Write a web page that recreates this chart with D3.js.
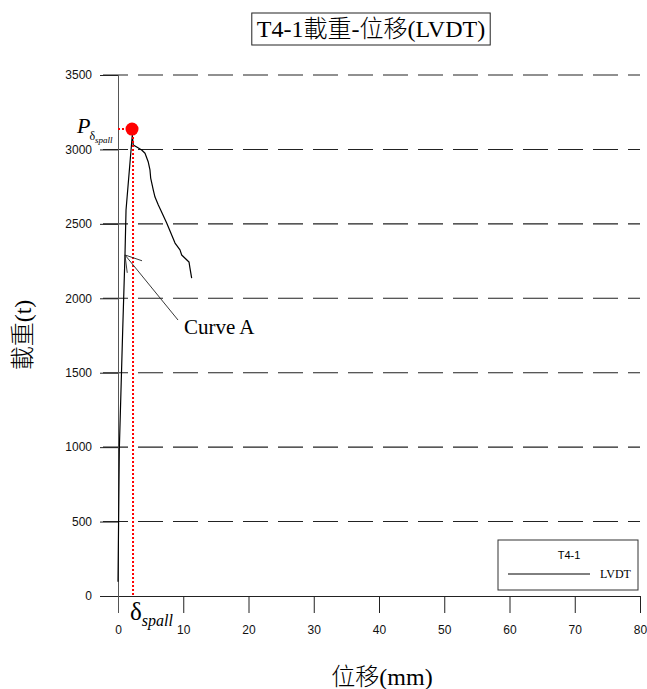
<!DOCTYPE html>
<html>
<head>
<meta charset="utf-8">
<script src="https://cdn.jsdelivr.net/npm/d3@7"></script>
<style>
  html, body { margin: 0; padding: 0; background: #fff; }
  svg { display: block; }
</style>
</head>
<body>
<svg id="chart" width="647" height="689"></svg>
<script>
// Load–displacement record of specimen T4-1 (LVDT)
const displacement = [0, 0.2, 0.72, 1.07, 1.23, 2.19, 2.34, 2.87, 3.63, 4.14, 4.64, 4.90, 5.01, 5.41, 5.67, 6.18, 6.54, 7.46, 8.74, 9.50, 9.76, 10.88, 11.03, 11.29];
const load         = [95, 981, 1787, 2291, 2593, 3097, 3030, 3016, 2996, 2974, 2915, 2862, 2808, 2727, 2680, 2626, 2593, 2506, 2371, 2325, 2291, 2244, 2203, 2136];

// Spalling point
const spallDisp = 2.15;
const spallLoad = 3137;

// Axis ticks
const xTicks = [0, 10, 20, 30, 40, 50, 60, 70, 80];
const yTicks = [0, 500, 1000, 1500, 2000, 2500, 3000, 3500];

// "Curve A" annotation: arrow tip on the curve, label below-right
const curveATip = [1.07, 2291];
const curveATail = [9.2, 1854];
const curveALabelAt = [10.1, 1760];

const title = "T4-1載重-位移(LVDT)";
const xTitle = "位移(mm)";
const yTitle = "載重(t)";
const legendTitle = "T4-1";
const legendSeries = "LVDT";

const serif = "'Liberation Serif', 'Times New Roman', serif";
const sans = "'Liberation Sans', Arial, sans-serif";
const cjk = "'Liberation Serif', 'Noto Sans CJK TC', serif";

const svg = d3.select("#chart");

const x = d3.scaleLinear().domain([0, 80]).range([118, 640]);
const y = d3.scaleLinear().domain([0, 3500]).range([596, 75]);

// Dashed horizontal grid
svg.append("g")
  .selectAll("line")
  .data(yTicks.filter(d => d > 0))
  .join("line")
  .attr("x1", x(0) - 15).attr("x2", x(80))
  .attr("y1", d => y(d)).attr("y2", d => y(d))
  .attr("stroke", "#222")
  .attr("stroke-width", 1.1)
  .attr("stroke-dasharray", "25,10");

// X axis (ticks pointing down)
const xAxis = svg.append("g")
  .attr("transform", `translate(0,${y(0)})`)
  .call(d3.axisBottom(x).tickValues(xTicks).tickSize(17).tickPadding(12).tickFormat(d3.format("d")));
xAxis.select(".domain").attr("d", `M${x(0) - 18},0.5H${x(80)}`).attr("stroke", "#222");
xAxis.selectAll(".tick line").attr("stroke", "#222");
xAxis.selectAll("text").attr("font-family", sans).attr("font-size", 12).attr("fill", "#111");

// Y axis (ticks pointing left)
const yAxis = svg.append("g")
  .attr("transform", `translate(${x(0)},0)`)
  .call(d3.axisLeft(y).tickValues(yTicks).tickSize(18).tickPadding(8).tickFormat(d3.format("d")));
yAxis.select(".domain").attr("d", `M0.5,${y(3500)}V${y(0) + 17}`).attr("stroke", "#555");
yAxis.selectAll(".tick line").attr("stroke", "#222");
yAxis.selectAll("text").attr("font-family", sans).attr("font-size", 12).attr("fill", "#111");

// Measured curve
const pts = displacement.map((d, i) => [d, load[i]]);
svg.append("path")
  .datum(pts)
  .attr("fill", "none")
  .attr("stroke", "#000")
  .attr("stroke-width", 1.2)
  .attr("stroke-linejoin", "round")
  .attr("d", d3.line().x(d => x(d[0])).y(d => y(d[1])));

// Spalling marker with dotted guides
svg.append("line")
  .attr("x1", x(spallDisp) + 1).attr("x2", x(spallDisp) + 1)
  .attr("y1", y(spallLoad)).attr("y2", y(0))
  .attr("stroke", "#f00").attr("stroke-width", 2).attr("stroke-dasharray", "2,2");
svg.append("line")
  .attr("x1", x(0)).attr("x2", x(spallDisp))
  .attr("y1", y(spallLoad)).attr("y2", y(spallLoad))
  .attr("stroke", "#f00").attr("stroke-width", 2).attr("stroke-dasharray", "2,2");
svg.append("circle")
  .attr("cx", x(spallDisp)).attr("cy", y(spallLoad)).attr("r", 6.5)
  .attr("fill", "#f00");

// P_δspall label
const pLab = svg.append("text")
  .attr("x", x(0) - 41).attr("y", y(spallLoad) + 4)
  .attr("font-family", serif).attr("fill", "#000");
pLab.append("tspan").attr("font-size", 22).attr("font-style", "italic").text("P");
pLab.append("tspan").attr("font-size", 12).attr("dy", 7).attr("dx", -1).text("δ");
pLab.append("tspan").attr("font-size", 9).attr("font-style", "italic").attr("dy", 3).text("spall");

// δ_spall label
const dLab = svg.append("text")
  .attr("x", x(spallDisp) - 2).attr("y", y(0) + 24)
  .attr("font-family", serif).attr("fill", "#000");
dLab.append("tspan").attr("font-size", 25).text("δ");
dLab.append("tspan").attr("font-size", 16).attr("font-style", "italic").attr("dy", 6).text("spall");

// Curve A arrow
const tip = [x(curveATip[0]), y(curveATip[1])];
const tail = [x(curveATail[0]), y(curveATail[1])];
const ang = Math.atan2(tail[1] - tip[1], tail[0] - tip[0]);
const headLen = 18, headAng = 32 * Math.PI / 180;
const arrow = svg.append("g").attr("stroke", "#222").attr("stroke-width", 0.9).attr("fill", "none");
arrow.append("line").attr("x1", tail[0]).attr("y1", tail[1]).attr("x2", tip[0]).attr("y2", tip[1]);
[-1, 1].forEach(s => {
  arrow.append("line")
    .attr("x1", tip[0]).attr("y1", tip[1])
    .attr("x2", tip[0] + headLen * Math.cos(ang + s * headAng))
    .attr("y2", tip[1] + headLen * Math.sin(ang + s * headAng));
});
svg.append("text")
  .attr("x", x(curveALabelAt[0])).attr("y", y(curveALabelAt[1]))
  .attr("font-family", serif).attr("font-size", 21).attr("fill", "#000")
  .text("Curve A");

// Title in a box
const tText = svg.append("text")
  .attr("x", 371).attr("y", 37)
  .attr("text-anchor", "middle")
  .attr("font-family", cjk).attr("font-size", 24).attr("font-weight", 300).attr("fill", "#000")
  .text(title);
const tb = tText.node().getBBox();
svg.insert("rect", () => tText.node())
  .attr("x", tb.x - 5).attr("y", 13)
  .attr("width", tb.width + 10).attr("height", 32)
  .attr("fill", "#fff").attr("stroke", "#222").attr("stroke-width", 1);

// Axis titles
svg.append("text")
  .attr("x", 382).attr("y", 685)
  .attr("text-anchor", "middle")
  .attr("font-family", cjk).attr("font-size", 24).attr("font-weight", 300).attr("fill", "#000")
  .text(xTitle);
svg.append("text")
  .attr("transform", "translate(31,335) rotate(-90)")
  .attr("text-anchor", "middle")
  .attr("font-family", cjk).attr("font-size", 24).attr("font-weight", 300).attr("fill", "#000")
  .text(yTitle);

// Legend
const lg = svg.append("g");
lg.append("rect").attr("x", 498).attr("y", 540).attr("width", 140).attr("height", 50)
  .attr("fill", "#fff").attr("stroke", "#333").attr("stroke-width", 1);
lg.append("text").attr("x", 569).attr("y", 559).attr("text-anchor", "middle")
  .attr("font-family", sans).attr("font-size", 11).attr("fill", "#000").text(legendTitle);
lg.append("line").attr("x1", 508).attr("x2", 590).attr("y1", 574).attr("y2", 574)
  .attr("stroke", "#000").attr("stroke-width", 1);
lg.append("text").attr("x", 600).attr("y", 578)
  .attr("font-family", serif).attr("font-size", 12).attr("fill", "#000").text(legendSeries);
</script>
</body>
</html>
